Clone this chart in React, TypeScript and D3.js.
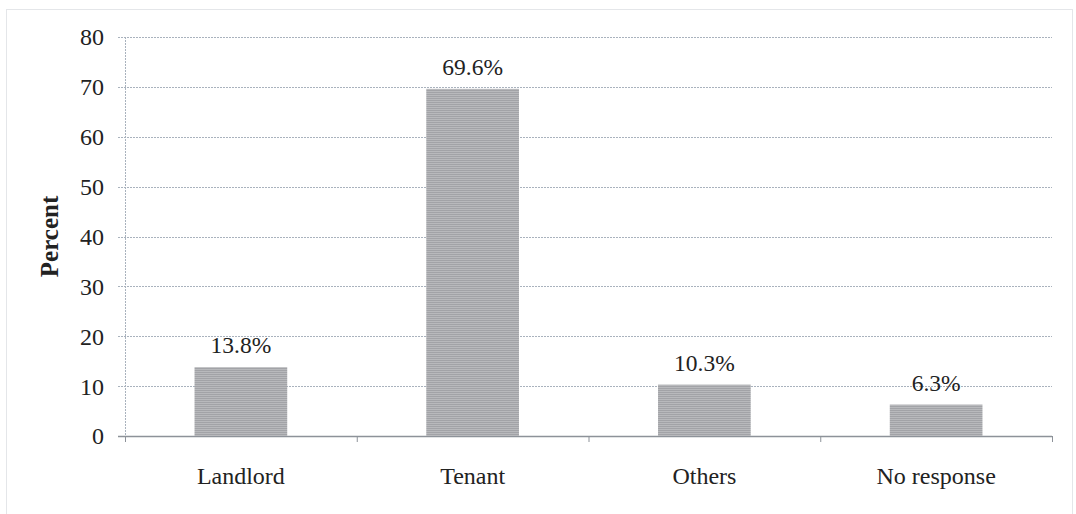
import React from "react";
import * as d3 from "d3";

const categories = ["Landlord", "Tenant", "Others", "No response"];
const percents = [13.8, 69.6, 10.3, 6.3];
const yTicks = [0, 10, 20, 30, 40, 50, 60, 70, 80];

const W = 1076;
const H = 514;
const left = 125;
const right = 1052;
const top = 37;
const bottom = 436;
const font = "'Liberation Serif', 'Times New Roman', serif";

export default function App() {
  const x = d3
    .scaleBand<string>()
    .domain(categories)
    .range([left, right])
    .paddingInner(0.6)
    .paddingOuter(0.3);
  const y = d3.scaleLinear().domain([0, 80]).range([bottom, top]);
  const step = x.step();
  const boundaries = d3.range(categories.length + 1).map((i) => left + i * step);

  return (
    <svg
      width={W}
      height={H}
      style={{ position: "absolute", left: 0, top: 0, background: "#fff" }}
    >
      <defs>
        <pattern id="barTex" width="4" height="2" patternUnits="userSpaceOnUse">
          <rect width="4" height="2" fill="#b8b9bc" />
          <rect width="4" height="1" fill="#a2a3a7" />
        </pattern>
      </defs>
      <rect
        x={6.5}
        y={9.5}
        width={1066}
        height={510}
        fill="none"
        stroke="#c8ccd2"
        strokeDasharray="1 1"
      />
      {yTicks.map((t) => (
        <g key={t}>
          <line
            x1={left - 7}
            x2={right}
            y1={Math.round(y(t)) + 0.5}
            y2={Math.round(y(t)) + 0.5}
            stroke={t === 0 ? "#8d9299" : "#a9b2bd"}
            strokeWidth={t === 0 ? 1.6 : 1}
            strokeDasharray={t === 0 ? undefined : "2 1"}
          />
          <text
            x={104}
            y={y(t)}
            dy="0.35em"
            textAnchor="end"
            fontFamily={font}
            fontSize={24}
            fill="#222"
          >
            {t}
          </text>
        </g>
      ))}
      <line
        x1={left + 0.5}
        x2={left + 0.5}
        y1={top}
        y2={bottom + 6}
        stroke="#a9b2bd"
        strokeDasharray="2 1"
      />
      {boundaries.map((b, i) => (
        <line
          key={i}
          x1={b + 0.5}
          x2={b + 0.5}
          y1={bottom}
          y2={bottom + 6}
          stroke="#8d9299"
        />
      ))}
      {categories.map((c, i) => (
        <g key={c}>
          <rect
            x={x(c)}
            y={y(percents[i])}
            width={x.bandwidth()}
            height={bottom - y(percents[i])}
            fill="url(#barTex)"
          />
          <text
            x={(x(c) as number) + x.bandwidth() / 2}
            y={y(percents[i]) - 14}
            textAnchor="middle"
            fontFamily={font}
            fontSize={23.5}
            fill="#222"
          >
            {percents[i].toFixed(1)}%
          </text>
          <text
            x={(x(c) as number) + x.bandwidth() / 2}
            y={484}
            textAnchor="middle"
            fontFamily={font}
            fontSize={24}
            fill="#222"
          >
            {c}
          </text>
        </g>
      ))}
      <text
        transform={`translate(58, ${(top + bottom) / 2}) rotate(-90)`}
        textAnchor="middle"
        fontFamily={font}
        fontSize={25}
        fontWeight="bold"
        fill="#222"
      >
        Percent
      </text>
    </svg>
  );
}
